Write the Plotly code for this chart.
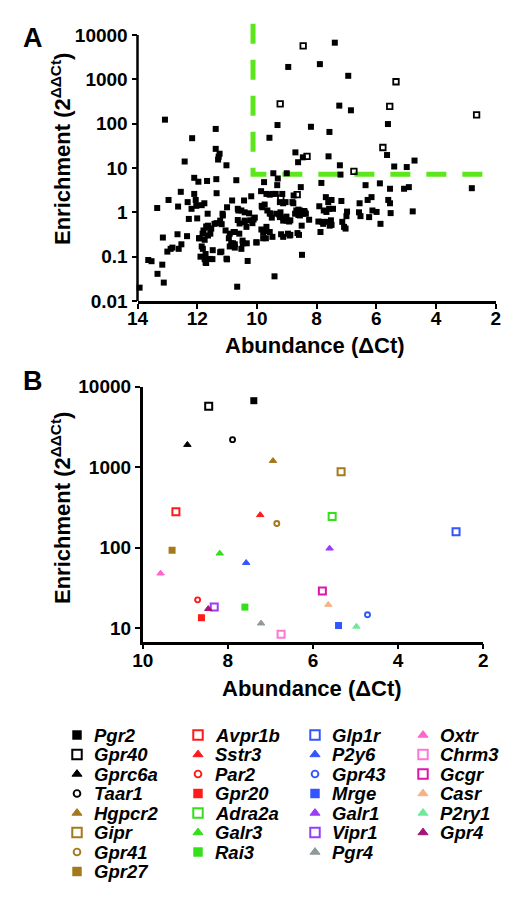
import math
import plotly.graph_objects as go

# The page body has an 8px margin: the figure is sized to fit the 520x899 window,
# and all layout positions below are given in window pixels.
WIN_W, WIN_H, BODY = 520, 899, 8
W, H = WIN_W - 2 * BODY, WIN_H - 2 * BODY
FONT = "Liberation Sans, Arial, Helvetica, sans-serif"

# ---------------- Panel B genes (also highlighted in panel A) ----------------
genes = ["Pgr2", "Gpr40", "Gprc6a", "Taar1", "Hgpcr2", "Gipr", "Gpr41", "Gpr27",
         "Avpr1b", "Sstr3", "Par2", "Gpr20", "Adra2a", "Galr3", "Rai3",
         "Glp1r", "P2y6", "Gpr43", "Mrge", "Galr1", "Vipr1", "Pgr4",
         "Oxtr", "Chrm3", "Gcgr", "Casr", "P2ry1", "Gpr4"]
gene_abund = [7.39, 8.45, 8.95, 7.89, 6.94, 5.34, 6.85, 9.31,
              9.22, 7.24, 8.71, 8.62, 5.55, 8.19, 7.60,
              2.64, 7.57, 4.72, 5.40, 5.61, 8.32, 7.22,
              9.58, 6.75, 5.78, 5.64, 4.98, 8.46]
gene_enrich = [6700, 5700, 1900, 2200, 1200, 880, 200, 93,
               280, 255, 22.5, 13.5, 245, 85, 18.3,
               158, 65, 14.7, 10.8, 98, 18.3, 11.5,
               48, 8.4, 29, 19.6, 10.5, 17.4]
gene_symbol = ["square", "square-open", "triangle-up", "circle-open", "triangle-up", "square-open", "circle-open", "square",
               "square-open", "triangle-up", "circle-open", "square", "square-open", "triangle-up", "square",
               "square-open", "triangle-up", "circle-open", "square", "triangle-up", "square-open", "triangle-up",
               "triangle-up", "square-open", "square-open", "triangle-up", "triangle-up", "triangle-up"]
BLACK, BROWN, RED, GREEN, BLUE, PURPLE = "#000000", "#A6781C", "#FF1A1A", "#33E01A", "#3355FF", "#9B3DF5"
gene_color = [BLACK, BLACK, BLACK, BLACK, BROWN, BROWN, BROWN, BROWN,
              RED, RED, RED, RED, GREEN, GREEN, GREEN,
              BLUE, BLUE, BLUE, BLUE, PURPLE, PURPLE, "#8E9A9A",
              "#FF66CC", "#FF77D4", "#DD16AA", "#F7B184", "#6EEA9A", "#A8137A"]
legend_columns = [8, 7, 7, 6]

# ---------------- Panel A: all other receptors ----------------
a_abund = [13.93, 13.64, 13.53, 13.33, 13.17, 13.12, 13.08, 13.34, 13.15, 12.96,
           13.0, 12.89, 12.83, 12.66, 12.64, 12.62, 12.53, 12.55, 12.42, 12.34,
           12.32, 12.28, 12.19, 12.17, 12.10, 12.10, 12.05, 12.0, 11.96, 11.94,
           11.89, 11.85, 11.85, 11.82, 11.81, 11.79, 11.76, 11.72, 11.70, 11.65,
           11.65, 11.67, 11.58, 11.56, 11.48, 11.38, 11.38, 11.36, 11.35, 11.35,
           11.42, 11.25, 11.28, 11.30, 11.23, 11.18, 11.15, 11.05, 11.02, 11.0,
           11.0, 10.94, 10.83, 10.80, 10.74, 10.74, 10.69, 10.66, 10.64, 10.62,
           10.59, 10.52, 10.48, 10.43, 10.41, 10.34, 10.31, 10.26, 10.22, 10.19,
           10.11, 10.01, 9.86, 9.82, 9.79, 9.76, 9.74, 9.70, 9.68, 9.65,
           9.57, 9.55, 9.50, 9.45, 9.41, 9.37, 9.32, 9.30, 9.25, 9.21,
           9.15, 9.12, 9.04, 9.0, 9.0, 8.96, 8.88, 8.88, 8.81, 8.77,
           8.72, 8.68, 8.64, 8.61, 8.56, 8.53, 8.50, 8.49, 8.41, 8.36,
           8.25, 7.91, 7.87, 7.84, 7.81, 7.76, 7.69, 7.67, 7.64, 7.61,
           7.56, 7.52, 7.50, 7.45, 7.20, 7.17, 7.14, 7.08, 7.03, 6.98,
           7.0, 6.58, 6.56, 6.53, 6.36, 6.29, 6.24, 6.16, 6.13, 5.99,
           5.88, 5.86, 5.60, 5.54, 5.54, 5.52, 5.07, 4.91, 4.78, 2.80,
           12.03, 10.52, 10.41, 9.48, 9.68, 8.78, 9.23, 9.12, 9.84, 9.57,
           9.35, 9.23, 9.12, 9.01, 8.92, 8.56, 8.40, 11.64, 11.53, 11.23,
           11.14, 10.91, 10.78, 10.64, 10.58, 10.41, 10.35, 10.15, 10.07, 9.85,
           9.57, 9.48, 9.19, 9.12, 8.90, 8.59, 11.92, 11.75, 11.64, 11.72,
           11.75, 11.70, 11.49, 11.19, 11.02, 10.91, 10.86, 10.74, 10.47, 10.02,
           9.79, 9.70, 8.61, 8.45, 7.94, 7.78, 7.50, 7.58]
a_enrich = [0.020, 0.084, 0.079, 0.041, 0.066, 0.026, 123, 1.25, 0.27, 1.9,
            0.13, 0.15, 0.16, 0.32, 1.35, 0.15, 0.19, 2.9, 14, 0.29,
            1.7, 0.71, 1.2, 47, 6.0, 2.6, 1.9, 0.73, 4.9, 0.26,
            0.10, 1.45, 0.17, 0.33, 0.15, 0.39, 1.6, 0.074, 0.48, 0.45,
            0.93, 5.1, 0.089, 0.33, 0.14, 76, 27, 5.6, 2.7, 0.57,
            0.55, 21, 18, 15.5, 0.126, 0.54, 0.93, 0.39, 11.5, 0.087,
            1.3, 0.26, 1.85, 0.20, 0.19, 0.36, 5.3, 0.021, 1.2, 1.1,
            0.33, 0.15, 0.23, 1.85, 0.65, 0.20, 0.080, 0.95, 0.66, 2.3,
            0.69, 0.21, 3.0, 1.3, 0.35, 4.8, 1.5, 0.26, 0.47, 1.1,
            2.5, 0.93, 0.76, 7.6, 0.036, 2.6, 4.1, 5.8, 0.89, 1.0,
            2.6, 0.65, 1.7, 7.6, 0.65, 0.33, 0.66, 0.31, 1.7, 2.4,
            0.93, 1.1, 0.34, 0.87, 1.1, 3.7, 0.50, 0.11, 1.07, 0.93,
            0.68, 1.37, 0.36, 4.6, 0.61, 1.1, 2.2, 1.02, 0.61, 1.7,
            0.50, 0.66, 1.9, 1.2, 7.1, 1.8, 0.61, 0.47, 0.43, 1.04,
            0.82, 1.0, 1.6, 0.82, 4.1, 1.9, 0.78, 2.2, 1.1, 1.02,
            4.5, 0.55, 1.9, 3.4, 1.6, 0.96, 3.4, 3.7, 1.05, 3.5,
            1.4, 1.1, 1.0, 2.6, 2.6, 1.6, 1.7, 1.6, 1.4, 0.95,
            0.93, 0.78, 0.75, 0.80, 0.62, 0.85, 1.0, 0.50, 0.43, 0.65,
            0.85, 0.33, 0.36, 0.67, 0.56, 0.60, 0.47, 0.57, 0.76, 0.41,
            0.36, 0.28, 0.32, 0.28, 0.30, 0.31, 0.26, 0.24, 0.30, 0.115,
            0.088, 0.072, 0.088, 0.13, 0.090, 0.17, 0.20, 0.16, 0.20, 0.21,
            0.26, 0.38, 1.15, 0.93, 0.62, 0.55, 0.52, 1.2]
assert len(a_abund) == len(a_enrich)
a_open_abund = [9.20, 8.65]
a_open_enrich = [2.1, 2.5]

# selection thresholds (panel A dashed lines)
thr_abund = 10.13
thr_enrich = 7.2
thr_top = 18000

a_xticks = [14, 12, 10, 8, 6, 4, 2]
a_yticks = [0.01, 0.1, 1, 10, 100, 1000, 10000]
a_yticktext = ["0.01", "0.1", "1", "10", "100", "1000", "10000"]
b_xticks = [10, 8, 6, 4, 2]
b_yticks = [10, 100, 1000, 10000]
b_yticktext = ["10", "100", "1000", "10000"]

# ---------------- layout helpers (window pixels -> paper fraction) ----------------
def pxx(x):
    return (x - BODY) / W

def pxy(y):
    return 1 - (y - BODY) / H

A_YRANGE = [-2, 4.27]
B_YRANGE = [math.log10(6.8), 4]

fig = go.Figure()

# Panel A threshold lines
fig.add_trace(go.Scatter(x=[thr_abund, thr_abund, 2], y=[thr_top, thr_enrich, thr_enrich],
                         mode="lines", line=dict(color="#5CE61C", width=5, dash="20px,16px"),
                         xaxis="x", yaxis="y", hoverinfo="skip", showlegend=False))

open_mask = [s == "square-open" for s in gene_symbol]
fa_x = a_abund + [x for x, o in zip(gene_abund, open_mask) if not o]
fa_y = a_enrich + [y for y, o in zip(gene_enrich, open_mask) if not o]
fig.add_trace(go.Scatter(x=fa_x, y=fa_y, mode="markers", xaxis="x", yaxis="y",
                         marker=dict(symbol="square", size=6, color="black", line=dict(width=0)),
                         cliponaxis=False, showlegend=False))
oa_x = a_open_abund + [x for x, o in zip(gene_abund, open_mask) if o]
oa_y = a_open_enrich + [y for y, o in zip(gene_enrich, open_mask) if o]
fig.add_trace(go.Scatter(x=oa_x, y=oa_y, mode="markers", xaxis="x", yaxis="y",
                         marker=dict(symbol="square-open", size=5.5, color="black", line=dict(width=1.8)),
                         cliponaxis=False, showlegend=False))

def marker_style(sym, col, scale):
    if sym == "square":
        return dict(symbol=sym, size=7 * scale, color=col, line=dict(width=0))
    if sym == "square-open":
        return dict(symbol=sym, size=7 * scale, color=col, line=dict(width=2))
    if sym == "circle-open":
        return dict(symbol=sym, size=5 * scale, color=col, line=dict(width=1.9))
    return dict(symbol=sym, size=6.5 * scale, color=col, line=dict(width=1, color=col))

# Panel B
for g, x, y, s, c in zip(genes, gene_abund, gene_enrich, gene_symbol, gene_color):
    fig.add_trace(go.Scatter(x=[x], y=[y], mode="markers", name=g, xaxis="x2", yaxis="y2",
                             marker=marker_style(s, c, 1.0), cliponaxis=False, showlegend=False))

# Legend (manual, 4 columns), window-pixel positions
col_marker_x = [77, 198, 315, 423]
col_text_x = [92, 213, 330, 438]
row0_y, row_dy = 735, 19.5
annotations = []
idx = 0
for ci, n in enumerate(legend_columns):
    for ri in range(n):
        g, s, c = genes[idx], gene_symbol[idx], gene_color[idx]
        ly = row0_y + ri * row_dy
        fig.add_trace(go.Scatter(x=[col_marker_x[ci]], y=[ly], mode="markers", xaxis="x3", yaxis="y3",
                                 marker=marker_style(s, c, 1.35), cliponaxis=False, showlegend=False,
                                 hoverinfo="skip"))
        annotations.append(dict(text="<b><i>%s</i></b>" % g, x=pxx(col_text_x[ci]), y=pxy(ly),
                                xref="paper", yref="paper", xanchor="left", yanchor="middle",
                                showarrow=False, font=dict(family=FONT, size=18.5, color="black")))
        idx += 1

def title_ann(text, cx, cy, size=22, angle=0):
    return dict(text=text, x=pxx(cx), y=pxy(cy), xref="paper", yref="paper",
                xanchor="center", yanchor="middle", showarrow=False, textangle=angle,
                font=dict(family=FONT, size=size, color="black"))

ytitle = "<b>Enrichment (2<sup>ΔΔCt</sup>)</b>"
xtitle = "<b>Abundance (ΔCt)</b>"
annotations += [
    title_ann("<b>A</b>", 33, 38, size=27),
    title_ann("<b>B</b>", 33, 381, size=27),
    title_ann(xtitle, 315, 346),
    title_ann(ytitle, 61, 149, angle=-90),
    title_ann(xtitle, 312, 688),
    title_ann(ytitle, 61, 508, angle=-90),
]

tickfont = dict(family=FONT, size=19, color="black", weight="bold")
common = dict(showgrid=False, zeroline=False, ticks="outside", ticklen=5, tickwidth=2,
              tickcolor="black", tickfont=tickfont, linecolor="black", linewidth=2.5,
              automargin=False)

fig.update_layout(
    width=W, height=H, margin=dict(l=0, r=0, t=0, b=0, pad=0, autoexpand=False),
    paper_bgcolor="white", plot_bgcolor="rgba(0,0,0,0)", showlegend=False,
    xaxis=dict(domain=[pxx(137.5), pxx(495.7)], range=[14, 2], tickmode="array", tickvals=a_xticks,
               showline=True, anchor="y", ticklabelstandoff=-7, **common),
    yaxis=dict(domain=[pxy(301), pxy(23)], type="log", range=A_YRANGE, tickmode="array",
               tickvals=a_yticks, ticktext=a_yticktext, showline=False, anchor="x", **common),
    xaxis2=dict(domain=[pxx(142.7), pxx(483.3)], range=[10, 2], tickmode="array", tickvals=b_xticks,
                showline=True, anchor="y2", ticklabelstandoff=-5, **common),
    yaxis2=dict(domain=[pxy(641.7), pxy(386.7)], type="log", range=B_YRANGE, tickmode="array",
                tickvals=b_yticks, ticktext=b_yticktext, showline=True, anchor="x2", **common),
    xaxis3=dict(domain=[0, 1], range=[BODY, BODY + W], visible=False, anchor="y3", automargin=False),
    yaxis3=dict(domain=[0, 1], range=[BODY + H, BODY], visible=False, anchor="x3", automargin=False),
    annotations=annotations,
    shapes=[dict(type="line", xref="x domain", yref="y domain", x0=0, x1=0, y0=0,
                 y1=(4 - A_YRANGE[0]) / (A_YRANGE[1] - A_YRANGE[0]),
                 line=dict(color="black", width=2.5))],
)

fig.write_html("out.html")
